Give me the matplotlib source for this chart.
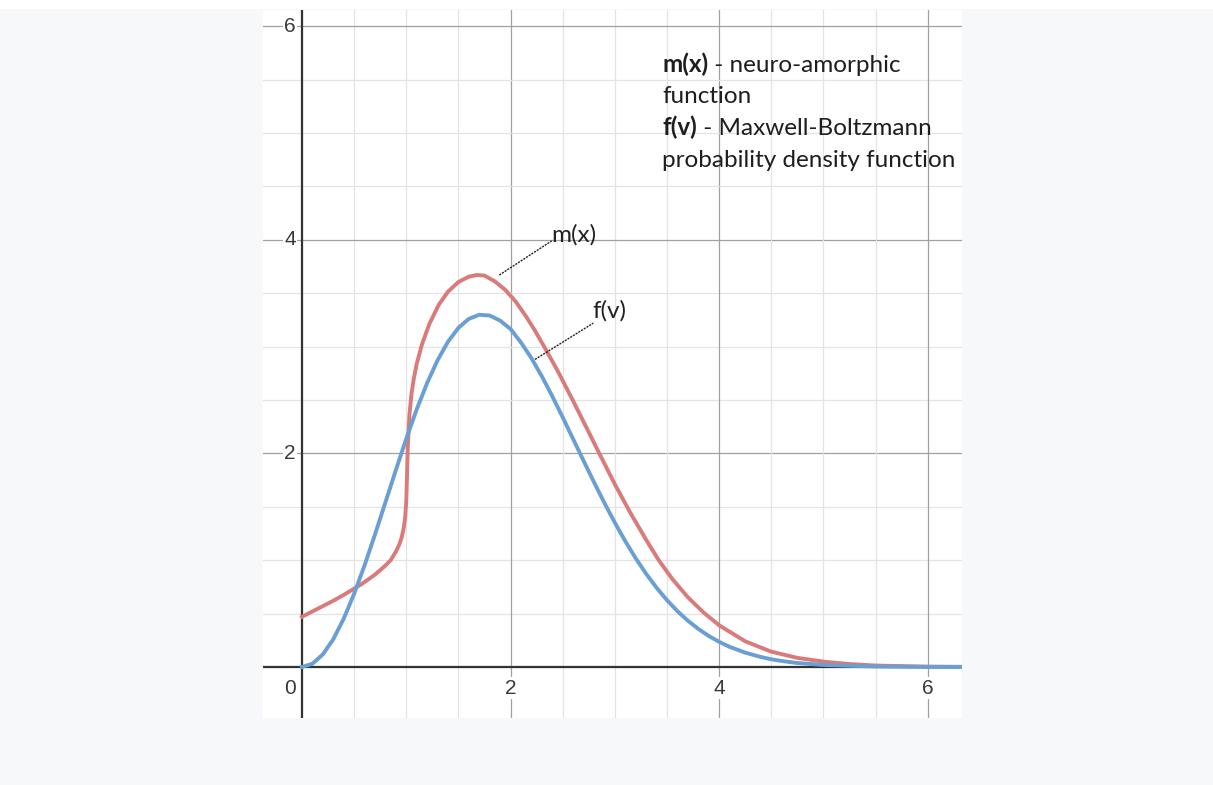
import matplotlib
matplotlib.use("Agg")
import matplotlib.pyplot as plt
from matplotlib.patches import Rectangle

# values
m_x = [0, 0.1, 0.2, 0.3, 0.4, 0.52, 0.6, 0.7, 0.8, 0.85, 0.9, 0.93, 0.955, 0.975,
       0.99, 1.0, 1.007, 1.013, 1.02, 1.03, 1.05, 1.07, 1.1, 1.15, 1.22, 1.31, 1.4,
       1.5, 1.6, 1.675, 1.75, 1.85, 1.95, 2.05, 2.15, 2.23, 2.31, 2.45, 2.6, 2.75,
       2.84, 3.0, 3.15, 3.3, 3.42, 3.55, 3.7, 3.85, 4.0, 4.25, 4.5, 4.75, 5.0, 5.25,
       5.5, 6.0, 6.35]
m_y = [0.47, 0.52, 0.57, 0.62, 0.675, 0.745, 0.795, 0.865, 0.95, 1.0, 1.08, 1.14, 1.21,
       1.30, 1.41, 1.56, 1.8, 2.02, 2.18, 2.36, 2.56, 2.69, 2.84, 3.02, 3.21, 3.39,
       3.515, 3.605, 3.655, 3.67, 3.665, 3.61, 3.53, 3.42, 3.28, 3.155, 3.02, 2.775,
       2.49, 2.197, 2.02, 1.71, 1.44, 1.19, 1.0, 0.8245, 0.652, 0.51, 0.39, 0.24,
       0.143, 0.085, 0.05, 0.027, 0.013, 0.003, 0.001]

f_x = [0, 0.1, 0.2, 0.3, 0.4, 0.5, 0.6, 0.7, 0.8, 0.9, 1.0, 1.1, 1.2, 1.3, 1.4, 1.5,
       1.6, 1.7, 1.8, 1.9, 2.0, 2.1, 2.2, 2.3, 2.4, 2.5, 2.6, 2.7, 2.8, 2.9, 3.0, 3.1,
       3.2, 3.3, 3.4, 3.5, 3.6, 3.7, 3.8, 3.9, 4.0, 4.1, 4.25, 4.4, 4.5, 4.6, 4.75,
       5.0, 5.5, 6.0, 6.35]
f_y = [0, 0.03, 0.118, 0.26, 0.452, 0.686, 0.952, 1.241, 1.542, 1.844, 2.138, 2.413,
       2.66, 2.873, 3.046, 3.176, 3.26, 3.298, 3.291, 3.243, 3.164, 3.038, 2.891,
       2.721, 2.534, 2.337, 2.133, 1.93, 1.729, 1.535, 1.35, 1.177, 1.017, 0.872,
       0.741, 0.625, 0.522, 0.433, 0.356, 0.29, 0.235, 0.188, 0.134, 0.093, 0.072,
       0.056, 0.037, 0.0185, 0.004, 0.0006, 0.0001]

x_ticks = [2, 4, 6]
y_ticks = [2, 4, 6]

legend_lines = [
    [("m(x)", "bold"), (" - neuro-amorphic", "normal")],
    [("function", "normal")],
    [("f(v)", "bold"), (" - Maxwell-Boltzmann", "normal")],
    [("probability density function", "normal")],
]

red = "#d97a7b"
blue = "#6a9fd4"
txt_font = "Lato"
txt_size = 17.5

fig = plt.figure(figsize=(12.13, 7.85), dpi=100, facecolor="#f7f8fa")
fig.patches.append(Rectangle((0, 1 - 9 / 785), 1, 9 / 785, transform=fig.transFigure,
                             facecolor="white", edgecolor="none", zorder=0))
ax = fig.add_axes([263 / 1213, 67 / 785, 699 / 1213, 708 / 785])
ax.set_facecolor("white")
ax.set_xlim(-0.374, 6.328)
ax.set_ylim(-0.478, 6.152)
for s in ax.spines.values():
    s.set_visible(False)
ax.set_xticks([])
ax.set_yticks([])

# grid
k = -0.5
while k <= 6.5:
    major = abs(k % 2) < 1e-9 and k != 0
    col = "#a0a0a0" if major else "#e3e3e3"
    ax.axvline(k, color=col, lw=0.9, zorder=1)
    ax.axhline(k, color=col, lw=0.9, zorder=1)
    k += 0.5
ax.axhline(0, color="#333333", lw=1.6, zorder=2)
ax.axvline(0, color="#333333", lw=1.6, zorder=2)

# tick labels
lab = dict(fontsize=15, color="#3a3a3a", family="Liberation Sans", zorder=3,
           bbox=dict(facecolor="white", edgecolor="none", pad=1.0))
for t in y_ticks:
    ax.text(-0.06, t, str(t), ha="right", va="center", **lab)
for t in x_ticks:
    ax.text(t, -0.2, str(t), ha="center", va="center", **lab)
ax.text(-0.06, -0.2, "0", ha="right", va="center", **lab)

# curves
ax.plot(m_x, m_y, color=red, lw=2.8, zorder=4, solid_joinstyle="round")
ax.plot(f_x, f_y, color=blue, lw=2.8, zorder=5, solid_joinstyle="round")

# labels with leader lines
ax.plot([1.892, 2.394], [3.67, 3.99], color="#222222", lw=1.0, ls=(0, (1.5, 0.8)), zorder=6)
ax.plot([2.234, 2.793], [2.88, 3.22], color="#222222", lw=1.0, ls=(0, (1.5, 0.8)), zorder=6)
ax.text(2.394, 3.98, "m(x)", family=txt_font, fontsize=txt_size, color="#222222",
        va="baseline", zorder=6)
ax.text(2.78, 3.27, "f(v)", family=txt_font, fontsize=txt_size, color="#222222",
        va="baseline", zorder=6)

# legend text with mixed weights
renderer = fig.canvas.get_renderer()
inv = ax.transData.inverted()
y0 = 5.574
for line in legend_lines:
    x = 3.452
    for s, w in line:
        t = ax.text(x, y0, s, family=txt_font, fontsize=txt_size, weight=w,
                    color="#1e1e1e", va="baseline", zorder=6)
        bb = t.get_window_extent(renderer)
        x = inv.transform((bb.x1, bb.y0))[0]
    y0 -= 0.297

fig.savefig("out.png", dpi=100, facecolor=fig.get_facecolor())
